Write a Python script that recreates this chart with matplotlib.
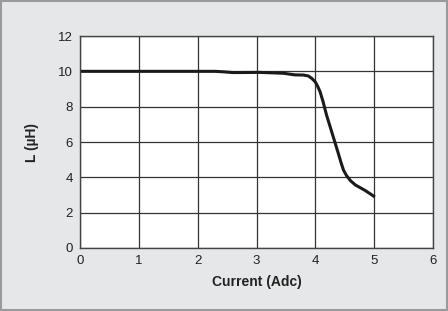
import matplotlib
matplotlib.use("Agg")
import matplotlib.pyplot as plt
from matplotlib.patches import Rectangle

plt.rcParams['font.family'] = ['Liberation Sans', 'DejaVu Sans']

current = [0.0, 1.0, 2.0, 2.3, 2.45, 2.6, 3.06, 3.46, 3.65, 3.80, 3.88, 3.94, 4.0, 4.04, 4.08, 4.13, 4.19, 4.29, 4.39, 4.44, 4.48, 4.53, 4.6, 4.68, 4.85, 4.99]
inductance = [10.0, 10.0, 10.0, 10.0, 9.97, 9.93, 9.94, 9.89, 9.80, 9.79, 9.74, 9.6, 9.4, 9.15, 8.85, 8.3, 7.53, 6.45, 5.36, 4.8, 4.4, 4.1, 3.8, 3.57, 3.25, 2.94]
xticks = [0, 1, 2, 3, 4, 5, 6]
yticks = [0, 2, 4, 6, 8, 10, 12]

fig = plt.figure(figsize=(4.48, 3.11), dpi=100)
fig.patch.set_facecolor('#e6e7e8')
fig.patches.append(Rectangle((0.002, 0.003), 0.996, 0.994, transform=fig.transFigure,
                             fill=False, edgecolor='#9a9a9a', linewidth=1.5))
ax = fig.add_axes([80/448, 1-248/311, (433-80)/448, (248-36)/311])
ax.set_facecolor('white')
ax.plot(current, inductance, color='#1a1a1a', linewidth=2.2, solid_joinstyle='round')
ax.set_xlim(0, 6)
ax.set_ylim(0, 12)
ax.set_xticks(xticks)
ax.set_yticks(yticks)
ax.grid(True, color='#333333', linewidth=0.9)
ax.set_axisbelow(True)
for s in ax.spines.values():
    s.set_color('#444444')
    s.set_linewidth(1.0)
ax.tick_params(length=0, pad=5, labelsize=9.5, colors='#222222')
ax.set_xlabel('Current (Adc)', fontsize=10, fontweight='bold', labelpad=6, color='#222222')
ax.set_ylabel('L (µH)', fontsize=10, fontweight='bold', labelpad=14, color='#222222')
fig.savefig('out.png', dpi=100, facecolor=fig.get_facecolor())
